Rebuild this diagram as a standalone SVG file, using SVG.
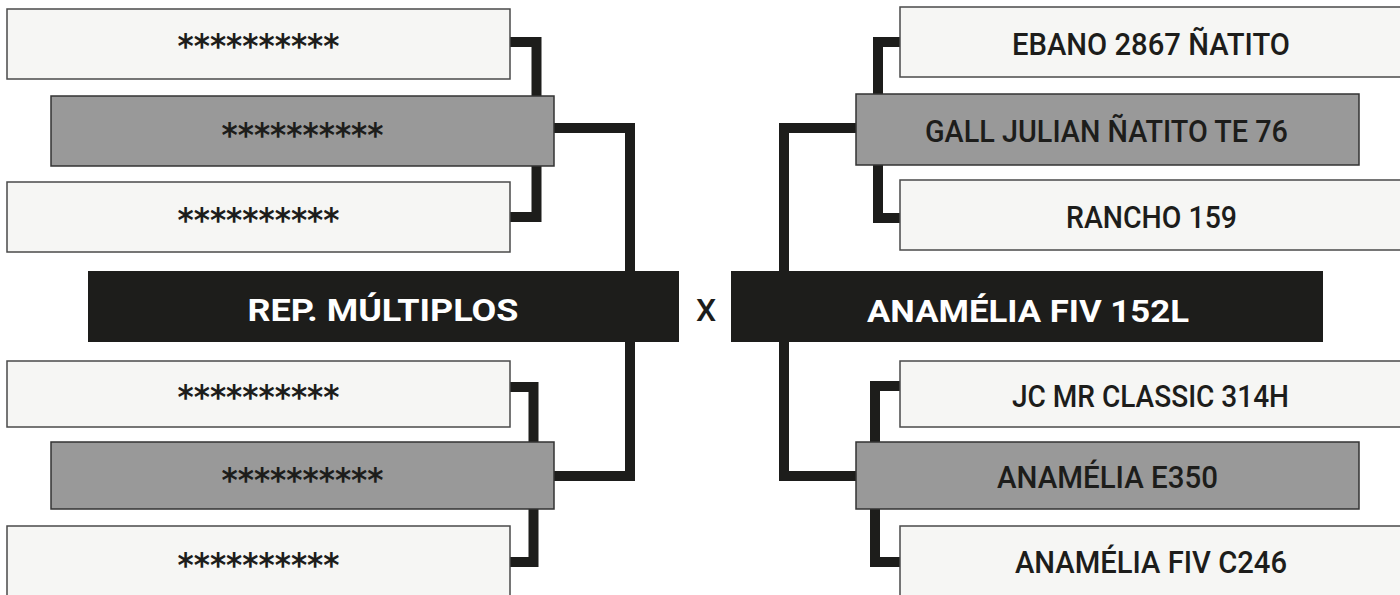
<svg xmlns="http://www.w3.org/2000/svg" width="1400" height="595" viewBox="0 0 1400 595">
<style>
.light{fill:#f6f6f4;stroke:#4a4a4a;stroke-width:1.5}
.mid{fill:#999999;stroke:#333333;stroke-width:1.5}
.dark{fill:#1d1d1b}
.con{fill:none;stroke:#1d1d1b;stroke-width:10;stroke-linejoin:miter}
.ast{font-family:"DejaVu Sans",sans-serif;font-weight:700;font-size:33px;fill:#1d1d1b;text-anchor:middle}
.nm{font-family:Roboto,"Liberation Sans",sans-serif;font-weight:500;font-size:31px;fill:#1d1d1b;text-anchor:middle}
.big{font-family:Roboto,"Liberation Sans",sans-serif;font-weight:700;font-size:32px;fill:#ffffff;text-anchor:middle}
.x{font-family:Roboto,"Liberation Sans",sans-serif;font-weight:500;font-size:32px;fill:#1d1d1b;text-anchor:middle}
</style>
<rect width="1400" height="595" fill="#ffffff"/>
<g id="connectors">
<path class="con" d="M510,42 H536.5 V217 H510"/>
<path class="con" d="M554,128 H630 V271"/>
<path class="con" d="M510,387 H533.5 V562 H510"/>
<path class="con" d="M554,476 H630 V342"/>
<path class="con" d="M900,42 H878 V218 H900"/>
<path class="con" d="M856,128 H784 V271"/>
<path class="con" d="M900,386 H875 V562 H900"/>
<path class="con" d="M856,476 H784 V342"/>
</g>
<g id="l1"><rect class="light" x="7" y="9" width="503" height="70"/><text class="ast" x="258.5" y="58" textLength="162" lengthAdjust="spacingAndGlyphs">**********</text></g>
<g id="l2"><rect class="mid" x="51" y="96" width="503" height="70"/><text class="ast" x="302.5" y="147" textLength="162" lengthAdjust="spacingAndGlyphs">**********</text></g>
<g id="l3"><rect class="light" x="7" y="182" width="503" height="70"/><text class="ast" x="258.5" y="232" textLength="162" lengthAdjust="spacingAndGlyphs">**********</text></g>
<g id="l4"><rect class="light" x="7" y="361" width="503" height="66"/><text class="ast" x="258.5" y="409" textLength="162" lengthAdjust="spacingAndGlyphs">**********</text></g>
<g id="l5"><rect class="mid" x="51" y="442" width="503" height="67"/><text class="ast" x="302.5" y="492" textLength="162" lengthAdjust="spacingAndGlyphs">**********</text></g>
<g id="l6"><rect class="light" x="7" y="526" width="503" height="80"/><text class="ast" x="258.5" y="577" textLength="162" lengthAdjust="spacingAndGlyphs">**********</text></g>
<g id="left-main"><rect class="dark" x="88" y="271" width="591" height="71"/><text class="big" x="383" y="321" textLength="271" lengthAdjust="spacingAndGlyphs">REP. MÚLTIPLOS</text></g>
<g id="vs"><text class="x" x="706" y="321">X</text></g>
<g id="right-main"><rect class="dark" x="731" y="271" width="592" height="71"/><text class="big" x="1028" y="322" textLength="322" lengthAdjust="spacingAndGlyphs">ANAMÉLIA FIV 152L</text></g>
<g id="r1"><rect class="light" x="900" y="7" width="520" height="70"/><text class="nm" x="1151" y="55" textLength="278" lengthAdjust="spacingAndGlyphs">EBANO 2867 ÑATITO</text></g>
<g id="r2"><rect class="mid" x="856" y="94" width="503" height="71"/><text class="nm" x="1106.5" y="142" textLength="363" lengthAdjust="spacingAndGlyphs">GALL JULIAN ÑATITO TE 76</text></g>
<g id="r3"><rect class="light" x="900" y="180" width="520" height="70"/><text class="nm" x="1151.5" y="228" textLength="171" lengthAdjust="spacingAndGlyphs">RANCHO 159</text></g>
<g id="r4"><rect class="light" x="900" y="361" width="520" height="66"/><text class="nm" x="1150.5" y="407" textLength="277" lengthAdjust="spacingAndGlyphs">JC MR CLASSIC 314H</text></g>
<g id="r5"><rect class="mid" x="856" y="442" width="503" height="67"/><text class="nm" x="1107.5" y="488" textLength="221" lengthAdjust="spacingAndGlyphs">ANAMÉLIA E350</text></g>
<g id="r6"><rect class="light" x="900" y="526" width="520" height="80"/><text class="nm" x="1151" y="573" textLength="272" lengthAdjust="spacingAndGlyphs">ANAMÉLIA FIV C246</text></g>
</svg>
